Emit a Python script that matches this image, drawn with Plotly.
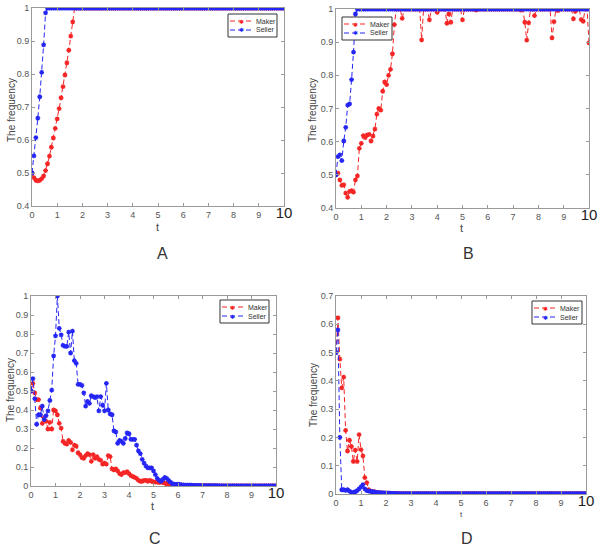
import plotly.graph_objects as go

N = 131
t = [round(i * 10 / 130, 4) for i in range(N)]

# ---- Panel A ----
a_maker_head = [0.5, 0.486, 0.478, 0.476, 0.478, 0.483, 0.491, 0.507, 0.528, 0.551, 0.578,
                0.606, 0.635, 0.664, 0.695, 0.728, 0.762, 0.797, 0.834, 0.872, 0.915, 0.958]
a_maker_tail = 1.0
a_seller_head = [0.5, 0.552, 0.607, 0.666, 0.731, 0.805, 0.888, 0.985]
a_seller_tail = 1.0

# ---- Panel B ----
b_maker = [0.5, 0.505, 0.485, 0.468, 0.47, 0.445, 0.432, 0.45, 0.452, 0.448,
           0.485, 0.497, 0.58, 0.595, 0.618, 0.612, 0.62, 0.622, 0.602, 0.617,
           0.638, 0.683, 0.70, 0.695, 0.752, 0.78, 0.772, 0.80, 0.818, 0.865,
           0.953, 1.0, 1.0, 1.0, 0.972, 1.0, 1.0, 1.0, 1.0, 1.0,
           1.0, 1.0, 1.0, 1.0, 0.907, 1.0, 1.0, 1.0, 0.967, 1.0,
           1.0, 1.0, 0.99, 1.0, 1.0, 1.0, 1.0, 0.957, 0.985, 0.96,
           1.0, 1.0, 1.0, 1.0, 1.0, 0.967, 1.0, 1.0, 1.0, 1.0,
           1.0, 1.0, 0.997, 1.0, 1.0, 1.0, 1.0, 1.0, 1.0, 1.0,
           1.0, 1.0, 1.0, 1.0, 1.0, 1.0, 1.0, 1.0, 1.0, 1.0,
           1.0, 1.0, 1.0, 1.0, 1.0, 0.997, 1.0, 0.96, 0.906, 0.958,
           1.0, 1.0, 0.98, 1.0, 1.0, 1.0, 1.0, 1.0, 1.0, 1.0,
           1.0, 0.913, 0.962, 1.0, 0.995, 1.0, 1.0, 1.0, 1.0, 1.0,
           1.0, 1.0, 0.97, 0.993, 1.0, 1.0, 0.968, 0.963, 1.0, 1.0,
           0.898]
b_seller_head = [0.5, 0.555, 0.56, 0.543, 0.602, 0.643, 0.71, 0.714, 0.787, 0.87, 0.985]
b_seller_tail = 1.0

# ---- Panel C ----
c_maker_head = [0.5, 0.54, 0.49, 0.455, 0.455, 0.41, 0.33, 0.36, 0.34, 0.3,
                0.335, 0.3, 0.4, 0.395, 0.375, 0.33, 0.305, 0.235, 0.225, 0.22,
                0.24, 0.23, 0.19, 0.215, 0.21, 0.175, 0.165, 0.15, 0.145, 0.16,
                0.17, 0.165, 0.13, 0.165, 0.145, 0.155, 0.14, 0.135, 0.115, 0.12,
                0.115, 0.16, 0.155, 0.09, 0.085, 0.09, 0.08, 0.065, 0.06, 0.07,
                0.07, 0.075, 0.065, 0.055, 0.05, 0.045, 0.04, 0.03, 0.025, 0.025,
                0.03, 0.03, 0.025, 0.03, 0.025, 0.022, 0.02, 0.02, 0.018, 0.02,
                0.018, 0.015, 0.012, 0.01, 0.008, 0.007,
                0.006, 0.005, 0.005, 0.004, 0.004, 0.004, 0.003, 0.003, 0.003, 0.003,
                0.002, 0.002, 0.002, 0.002, 0.002, 0.002, 0.002, 0.002, 0.002, 0.002]
c_maker_tail = 0.001
c_seller_head = [0.5, 0.565, 0.46, 0.325, 0.375, 0.375, 0.42, 0.35, 0.37, 0.395,
                 0.45, 0.505, 0.685, 0.79, 1.0, 0.83, 0.795, 0.74, 0.735, 0.735,
                 0.81, 0.70, 0.815, 0.66, 0.645, 0.535, 0.535, 0.53, 0.49, 0.42,
                 0.445, 0.435, 0.475, 0.47, 0.465, 0.47, 0.395, 0.47, 0.425, 0.395,
                 0.54, 0.4, 0.38, 0.375, 0.29, 0.285, 0.225, 0.24, 0.235, 0.225,
                 0.25, 0.28, 0.275, 0.245, 0.245, 0.245, 0.215, 0.185, 0.17, 0.14,
                 0.12, 0.105, 0.095, 0.095, 0.095, 0.08, 0.06, 0.04, 0.03, 0.025,
                 0.035, 0.045, 0.04, 0.03, 0.02, 0.012, 0.01, 0.008, 0.01, 0.008,
                 0.006, 0.005, 0.005, 0.004, 0.004, 0.004, 0.003, 0.003, 0.003, 0.003,
                 0.002, 0.002, 0.002, 0.002, 0.002, 0.002, 0.002, 0.002, 0.002, 0.002]
c_seller_tail = 0.001

# ---- Panel D ----
d_maker_head = [0.5, 0.623, 0.477, 0.375, 0.413, 0.225, 0.152, 0.19, 0.168, 0.115,
                0.155, 0.115, 0.21, 0.157, 0.135, 0.058, 0.04, 0.015, 0.01, 0.008,
                0.008, 0.006, 0.005, 0.004, 0.004, 0.003, 0.003, 0.003, 0.002, 0.002,
                0.002, 0.002, 0.002]
d_maker_tail = 0.001
d_seller_head = [0.5, 0.58, 0.2, 0.015, 0.015, 0.013, 0.015, 0.01, 0.006, 0.006,
                 0.008, 0.012, 0.018, 0.025, 0.033, 0.018, 0.012, 0.01, 0.009, 0.008,
                 0.007, 0.006, 0.005, 0.005, 0.004, 0.004, 0.003, 0.003, 0.003, 0.002,
                 0.002, 0.002]
d_seller_tail = 0.001

series_names = ["Maker", "Seller"]
panel_labels = ["A", "B", "C", "D"]


def pad(head, tail):
    return head + [tail] * (N - len(head))


series = {
    "A": (pad(a_maker_head, a_maker_tail), pad(a_seller_head, a_seller_tail)),
    "B": (b_maker, pad(b_seller_head, b_seller_tail)),
    "C": (pad(c_maker_head, c_maker_tail), pad(c_seller_head, c_seller_tail)),
    "D": (pad(d_maker_head, d_maker_tail), pad(d_seller_head, d_seller_tail)),
}

W, H = 600, 549
# pixel boxes (left, right, top, bottom)
boxes = {
    "A": (32, 284, 8, 206),
    "B": (336, 589, 9, 208),
    "C": (31, 276, 296, 486),
    "D": (336, 586, 296, 494),
}
yranges = {"A": [0.4, 1.0], "B": [0.4, 1.0], "C": [0, 1.0], "D": [0, 0.7]}
yticks = {
    "A": ([0.4, 0.5, 0.6, 0.7, 0.8, 0.9, 1.0], ["0.4", "0.5", "0.6", "0.7", "0.8", "0.9", "1"]),
    "B": ([0.4, 0.5, 0.6, 0.7, 0.8, 0.9, 1.0], ["0.4", "0.5", "0.6", "0.7", "0.8", "0.9", "1"]),
    "C": ([0, 0.1, 0.2, 0.3, 0.4, 0.5, 0.6, 0.7, 0.8, 0.9, 1.0],
          ["0", "0.1", "0.2", "0.3", "0.4", "0.5", "0.6", "0.7", "0.8", "0.9", "1"]),
    "D": ([0, 0.1, 0.2, 0.3, 0.4, 0.5, 0.6, 0.7],
          ["0", "0.1", "0.2", "0.3", "0.4", "0.5", "0.6", "0.7"]),
}
xtickvals = list(range(11))
xticktext = [str(i) for i in range(10)] + ["<span style='font-size:15px;fill:#222'>10</span>"]
# legend boxes (left, top, width) in px
legend_pos = {"A": (228, 14, 49), "B": (342, 17, 50), "C": (220, 300, 49), "D": (532, 301, 50)}
letter_pos = {"A": (162, 254), "B": (468, 253), "C": (155, 538), "D": (467, 538)}
xtitle_pos = {"A": (158, 227, 11), "B": (461, 228, 11), "C": (152, 506, 11), "D": (461, 514, 8)}
ytitle_pos = {"A": (12, 110), "B": (313, 110), "C": (10, 390), "D": (313, 395)}

RED = "#f52525"
BLUE = "#2525f5"
COLORS = [RED, BLUE]
FONT = "Liberation Sans"
DASH = "5px,3px"


def px(x):
    return x / W


def py(y):
    return 1 - y / H


fig = go.Figure()
annotations = []
shapes = []
layout = dict(
    width=W, height=H, margin=dict(l=0, r=0, t=0, b=0, autoexpand=False),
    paper_bgcolor="white", plot_bgcolor="white", showlegend=False,
)

for k, name in enumerate(panel_labels):
    idx = "" if k == 0 else str(k + 1)
    xa, ya = "x" + idx, "y" + idx
    for lab, vals, col in zip(series_names, series[name], COLORS):
        fig.add_trace(go.Scatter(
            x=t, y=vals, mode="lines+markers", name=lab,
            xaxis=xa, yaxis=ya,
            line=dict(color=col, width=1, dash=DASH),
            marker=dict(symbol="asterisk", size=4, color=col, line=dict(color=col, width=1.3)),
        ))
    l, r, tp, b = boxes[name]
    axstyle = dict(showgrid=False, zeroline=False, showline=True, mirror="ticks",
                   linecolor="#9a9a9a", linewidth=1, ticks="inside", ticklen=3,
                   tickcolor="#9a9a9a", automargin=False,
                   tickfont=dict(family=FONT, size=9, color="#555"))
    layout["xaxis" + idx] = dict(
        domain=[px(l), px(r)], anchor=ya, range=[0, 10],
        tickmode="array", tickvals=xtickvals, ticktext=xticktext, **axstyle)
    layout["yaxis" + idx] = dict(
        domain=[py(b), py(tp)], anchor=xa, range=yranges[name],
        tickmode="array", tickvals=yticks[name][0], ticktext=yticks[name][1], **axstyle)

    # axis titles
    tx, ty, ts = xtitle_pos[name]
    annotations.append(dict(x=px(tx), y=py(ty), xref="paper", yref="paper", text="t",
                            showarrow=False, font=dict(family=FONT, size=ts, color="#444"),
                            xanchor="center", yanchor="middle"))
    yx, yy = ytitle_pos[name]
    annotations.append(dict(x=px(yx), y=py(yy), xref="paper", yref="paper", text="The frequency",
                            showarrow=False, textangle=-90,
                            font=dict(family=FONT, size=10, color="#444"),
                            xanchor="center", yanchor="middle"))

    # compact legend box
    lx, ly, lw = legend_pos[name]
    shapes.append(dict(type="rect", xref="paper", yref="paper",
                       x0=px(lx), x1=px(lx + lw), y0=py(ly + 23), y1=py(ly),
                       line=dict(color="#333", width=1), fillcolor="white", layer="above"))
    for j, (lab, col) in enumerate(zip(series_names, COLORS)):
        rowy = ly + 7 + 9 * j
        shapes.append(dict(type="line", xref="paper", yref="paper",
                           x0=px(lx + 2), x1=px(lx + 24), y0=py(rowy), y1=py(rowy),
                           line=dict(color=col, width=1, dash=DASH), layer="above"))
        annotations.append(dict(x=px(lx + 13), y=py(rowy), xref="paper", yref="paper",
                                text="✱", showarrow=False,
                                font=dict(family="DejaVu Sans", size=6, color=col),
                                xanchor="center", yanchor="middle"))
        annotations.append(dict(x=px(lx + 26), y=py(rowy), xref="paper", yref="paper",
                                text=lab, showarrow=False,
                                font=dict(family=FONT, size=7, color="#333"),
                                xanchor="left", yanchor="middle"))

    # panel letter
    lpx, lpy = letter_pos[name]
    annotations.append(dict(x=px(lpx), y=py(lpy), xref="paper", yref="paper", text=name,
                            showarrow=False, font=dict(family=FONT, size=16, color="#333"),
                            xanchor="center", yanchor="middle"))

layout["annotations"] = annotations
layout["shapes"] = shapes
fig.update_layout(**layout)
fig.write_html("out.html", config={"displayModeBar": False},
               post_script="document.body.style.margin='0px';document.body.style.padding='0px';")
